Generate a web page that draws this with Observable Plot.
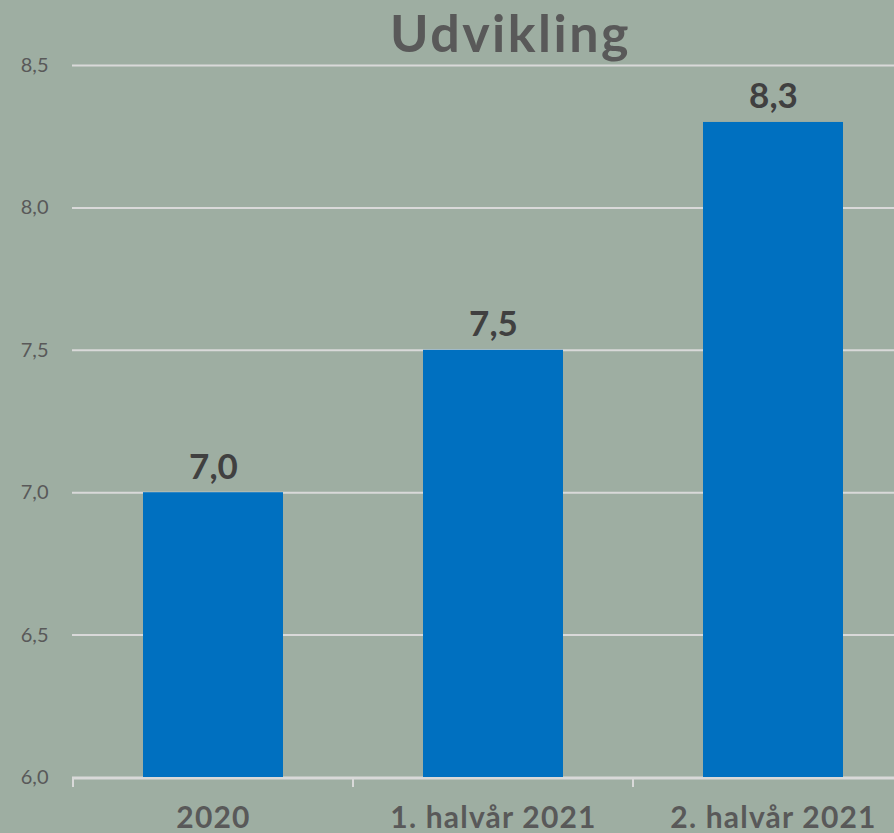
<!DOCTYPE html>
<html>
<head>
<meta charset="utf-8">
<script src="https://cdn.jsdelivr.net/npm/d3@7"></script>
<script src="https://cdn.jsdelivr.net/npm/@observablehq/plot@0.6"></script>
<style>
  html, body { margin: 0; padding: 0; background: #9eaea2; overflow: hidden; }
  #chart svg { display: block; }
</style>
</head>
<body>
<div id="chart"></div>
<script>
const title = "Udvikling";
const categories = ["2020", "1. halvår 2021", "2. halvår 2021"];
const values = [7.0, 7.5, 8.3];
const yTicks = [6.0, 6.5, 7.0, 7.5, 8.0, 8.5];

const data = categories.map((c, i) => ({category: c, value: values[i]}));
const fmt = d => d.toFixed(1).replace(".", ",");
const font = "Lato, 'Open Sans', sans-serif";

const chart = Plot.plot({
  width: 894,
  height: 833,
  marginLeft: 72,
  marginRight: -20,
  marginTop: 65,
  marginBottom: 56,
  style: {background: "#9eaea2", fontFamily: font, overflow: "hidden"},
  x: {domain: categories, paddingInner: 0.5, paddingOuter: 0.25, label: null},
  y: {domain: [6, 8.5], label: null},
  marks: [
    Plot.gridY(yTicks, {stroke: "#d9d9d9", strokeOpacity: 1, strokeWidth: 2}),
    Plot.barY(data, {x: "category", y1: 6, y2: "value", fill: "#0070c0"}),
    Plot.ruleY([6], {stroke: "#d9d9d9", strokeWidth: 2, dy: 1}),
    Plot.axisY(yTicks, {tickSize: 0, tickPadding: 24, tickFormat: fmt, fontSize: 20, fill: "#595959", label: null}),
    Plot.axisX({tickSize: 0, tickPadding: 29, fontSize: 30, fontWeight: "bold", fill: "#595959", label: null}),
    Plot.text(data, {x: "category", y: "value", text: d => fmt(d.value), lineAnchor: "bottom", dy: -14, fontSize: 35, fontWeight: "bold", fill: "#404040"}),
    Plot.text([title], {frameAnchor: "top", lineAnchor: "bottom", dx: 17, dy: -14, fontSize: 52, fontWeight: "bold", fill: "#595959"})
  ]
});

// category separator ticks on the x axis, placed from the band scale
const xs = chart.scale("x");
const ys = chart.scale("y");
const gap = (xs.step - xs.bandwidth) / 2;
const y0 = ys.apply(6);
const svg = d3.select(chart);
const bounds = categories.map(c => xs.apply(c) - gap).concat([xs.apply(categories[categories.length - 1]) + xs.bandwidth + gap]);
svg.append("g").selectAll("line").data(bounds).join("line")
  .attr("x1", d => d).attr("x2", d => d)
  .attr("y1", y0).attr("y2", y0 + 10)
  .attr("stroke", "#d9d9d9").attr("stroke-width", 2);

// wider letter spacing to mimic the original humanist face
svg.selectAll("text").each(function() {
  const t = this.textContent;
  if (categories.includes(t)) this.setAttribute("letter-spacing", "1.2");
  else if (t === title) this.setAttribute("letter-spacing", "2.5");
});

document.getElementById("chart").appendChild(chart);
</script>
</body>
</html>
